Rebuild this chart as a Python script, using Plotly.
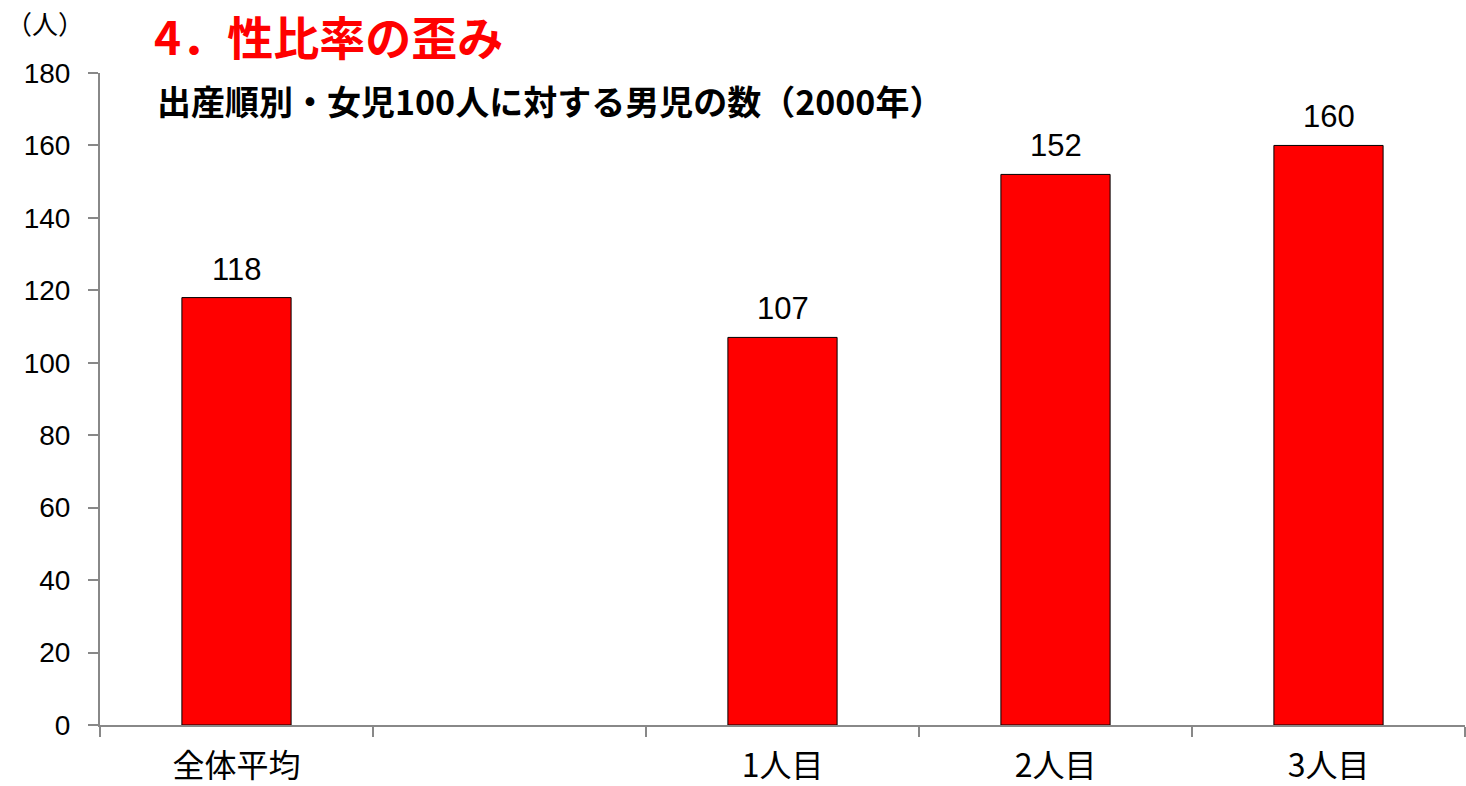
import plotly.graph_objects as go

categories = ["全体平均", " ", "1人目", "2人目", "3人目"]
values = [118, None, 107, 152, 160]
labels = ["118", "", "107", "152", "160"]
y_ticks = [0, 20, 40, 60, 80, 100, 120, 140, 160, 180]

JP = "Noto Sans CJK JP"
NUM = "Liberation Sans, Arial, sans-serif"

fig = go.Figure()
fig.add_trace(go.Bar(
    x=categories, y=values,
    marker=dict(color="#FF0000", line=dict(color="#000000", width=1)),
    width=0.4,
))

for c, v, t in zip(categories, values, labels):
    if v is None:
        continue
    fig.add_annotation(x=c, y=v, text=t, showarrow=False, yanchor="bottom",
                       yshift=9, font=dict(family=NUM, size=31, color="#000000"))

# plot area: x 100..1466, y 73..725 (height 652)
fig.add_annotation(xref="paper", yref="paper", x=0.038, y=1.058, xanchor="left", yanchor="middle",
                   text="<b>4．性比率の歪み</b>", showarrow=False,
                   font=dict(family=JP, size=46, color="#FF0000"))
fig.add_annotation(xref="paper", yref="paper", x=-0.07, y=1.078, xanchor="left", yanchor="middle",
                   text="（人）", showarrow=False, font=dict(family=JP, size=26, color="#000000"))
fig.add_annotation(xref="paper", yref="paper", x=0.04, y=0.958, xanchor="left", yanchor="middle",
                   text="<b>出産順別・女児100人に対する男児の数（2000年）</b>", showarrow=False,
                   font=dict(family=JP, size=34, color="#000000"))

fig.update_layout(
    width=1466, height=786,
    margin=dict(l=100, r=1, t=73, b=61),
    paper_bgcolor="white", plot_bgcolor="white",
    showlegend=False,
    xaxis=dict(type="category", tickson="boundaries", ticks="outside", ticklen=10,
               tickcolor="#888888", tickwidth=2, showline=True, linecolor="#888888", linewidth=2,
               showgrid=False, tickfont=dict(family=JP, size=32, color="#000000"),
               ticklabelstandoff=12,
               range=[-0.5, 4.5], automargin=False),
    yaxis=dict(range=[0, 180], tickvals=y_ticks, ticks="outside", ticklen=10,
               tickcolor="#888888", tickwidth=2, showline=True, linecolor="#888888", linewidth=2,
               showgrid=False, zeroline=False, automargin=False, ticklabelstandoff=12,
               tickfont=dict(family=NUM, size=28, color="#000000")),
)

fig.write_html("out.html", config={"displayModeBar": False},
               post_script="document.body.style.margin='0';document.body.style.overflow='hidden';")
